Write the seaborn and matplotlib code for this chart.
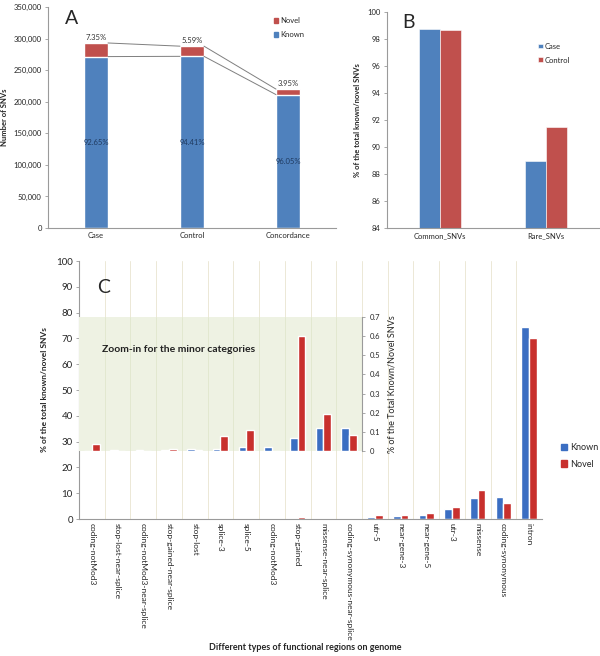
import matplotlib
matplotlib.use("Agg")
import matplotlib.pyplot as plt
import matplotlib.ticker as mticker
from matplotlib.patches import Patch
import pandas as pd
import seaborn as sns

# ── Data ─────────────────────────────────────────────────────────────────────

# panel A: number of SNVs
a_groups = ["Case", "Control", "Concordance"]
a_known = [271500, 271900, 211300]
a_novel = [21550, 16100, 8700]
a_known_pct = ["92.65%", "94.41%", "96.05%"]
a_novel_pct = ["7.35%", "5.59%", "3.95%"]

# panel B: % known among common / rare SNVs
b_groups = ["Common_SNVs", "Rare_SNVs"]
b_case = [98.74, 88.99]
b_control = [98.69, 91.5]

# panel C: functional regions (first 11 are the minor ones shown in the zoom-in)
c_regions = ["coding-notMod3", "stop-lost-near-splice", "coding-notMod3-near-splice",
             "stop-gained-near-splice", "stop-lost", "splice-3", "splice-5",
             "coding-notMod3", "stop-gained", "missense-near-splice",
             "coding-synonymous-near-splice", "utr-5", "near-gene-3", "near-gene-5",
             "utr-3", "missense", "coding-synonymous", "intron"]
c_known = [0.0, 0.003, 0.003, 0.003, 0.012, 0.012, 0.021, 0.021, 0.066, 0.119, 0.122,
           0.9, 1.2, 1.5, 3.7, 8.0, 8.6, 74.5]
c_novel = [0.035, 0.0, 0.0, 0.009, 0.007, 0.077, 0.111, 0.0, 0.60, 0.193, 0.084,
           1.5, 1.4, 2.2, 4.5, 11.2, 6.3, 70.3]
n_minor = 11

BLUE, RED = "#4f81bd", "#c0504d"
C_BLUE, C_RED = "#3b6ec2", "#c8302d"
SPINE = "#9a9a9a"

sns.set_style("white")
plt.rcParams["font.family"] = ["Lato", "DejaVu Sans"]


def tidy(ax, left=True):
    for s in ["top", "right"]:
        ax.spines[s].set_visible(False)
    ax.spines["left"].set_visible(left)
    ax.spines["left"].set_color(SPINE)
    ax.spines["bottom"].set_color(SPINE)
    ax.spines["left"].set_linewidth(0.8)
    ax.spines["bottom"].set_linewidth(0.8)
    ax.tick_params(axis="y", length=2.5, width=0.6, color=SPINE, pad=2, left=True)
    ax.tick_params(axis="x", length=0, pad=3)


fig = plt.figure(figsize=(6, 6.56), dpi=100)

# ── A ────────────────────────────────────────────────────────────────────────
axA = fig.add_axes([0.08, 0.6524, 0.48, 0.3369])
dfa = pd.DataFrame({"group": a_groups, "known": a_known, "novel": a_novel})
dfa["total"] = dfa["known"] + dfa["novel"]
sns.barplot(data=dfa, x="group", y="total", color=RED, width=0.25,
            saturation=1, errorbar=None, ax=axA)
sns.barplot(data=dfa, x="group", y="known", color=BLUE, width=0.25,
            saturation=1, errorbar=None, ax=axA)
hw = 0.125
for i in range(len(a_groups) - 1):
    for col in ["total", "known"]:
        axA.plot([i + hw, i + 1 - hw], [dfa[col][i], dfa[col][i + 1]],
                 color="#7f7f7f", lw=0.7)
for i in range(len(a_groups)):
    axA.text(i, dfa["total"][i] + 3000, a_novel_pct[i], ha="center", va="bottom",
             fontsize=5.5, color="#333333")
    axA.text(i, dfa["known"][i] / 2, a_known_pct[i], ha="center", va="center",
             fontsize=5.5, color="#1f3a60")
axA.set_xlim(-0.5, 2.5)
axA.set_ylim(0, 350000)
axA.set_yticks(range(0, 350001, 50000))
axA.yaxis.set_major_formatter(mticker.FuncFormatter(lambda v, p: f"{int(v):,}"))
axA.set_xlabel("")
axA.set_ylabel("Number of SNVs", fontsize=5.5, fontweight="bold", labelpad=4)
axA.tick_params(labelsize=5.5)
tidy(axA)
axA.legend(handles=[Patch(color=RED, label="Novel"), Patch(color=BLUE, label="Known")],
           loc="upper left", bbox_to_anchor=(0.76, 0.985), frameon=False, fontsize=5.5,
           handlelength=0.6, handleheight=0.6, handletextpad=0.2, labelspacing=0.9)
axA.text(0.06, 0.985, "A", transform=axA.transAxes, fontsize=14, va="top")

# ── B ────────────────────────────────────────────────────────────────────────
axB = fig.add_axes([0.645, 0.6524, 0.3533, 0.3293])
dfb = pd.DataFrame({"group": b_groups * 2,
                    "pct": b_case + b_control,
                    "who": ["Case"] * 2 + ["Control"] * 2})
sns.barplot(data=dfb, x="group", y="pct", hue="who", palette=[BLUE, RED],
            width=0.4, saturation=1, errorbar=None, edgecolor="white",
            linewidth=0.4, ax=axB)
axB.set_ylim(84, 100)
axB.set_yticks(range(84, 101, 2))
axB.set_xlabel("")
axB.set_ylabel("% of the total known/novel SNVs", fontsize=5.5, fontweight="bold",
               labelpad=5)
axB.tick_params(labelsize=5.5)
tidy(axB)
axB.legend(loc="upper left", bbox_to_anchor=(0.68, 0.89), frameon=False, fontsize=5.5,
           handlelength=0.6, handleheight=0.6, handletextpad=0.2, labelspacing=0.9)
axB.text(0.07, 0.99, "B", transform=axB.transAxes, fontsize=14, va="top")

# ── C ────────────────────────────────────────────────────────────────────────
axC = fig.add_axes([0.1317, 0.2088, 0.7717, 0.3933])
n = len(c_regions)
dfc = pd.DataFrame({"pos": list(range(n)) * 2,
                    "pct": c_known + c_novel,
                    "type": ["Known"] * n + ["Novel"] * n})
for k in range(n - 1):
    axC.axvline(k + 0.5, color="#ece8d6", lw=0.7, zorder=0)
sns.barplot(data=dfc, x="pos", y="pct", hue="type", palette=[C_BLUE, C_RED],
            width=0.6, saturation=1, errorbar=None, legend=False, ax=axC)
axC.set_xlim(-0.5, n - 0.5)
axC.set_ylim(0, 100)
axC.set_yticks(range(0, 101, 10))
axC.set_xticks(range(n))
axC.set_xticklabels(c_regions, rotation=-90, fontsize=6, va="top", ha="center")
axC.set_xlabel("")
axC.set_ylabel("% of the total known/novel SNVs", fontsize=6, fontweight="bold",
               labelpad=6)
axC.tick_params(axis="y", labelsize=7)
tidy(axC)
axC.text(0.04, 0.93, "C", transform=axC.transAxes, fontsize=14, va="top")

# zoom-in inset for the minor categories
axI = fig.add_axes([0.1317, 0.3125, 0.7717 * n_minor / n, 0.2043])
axI.set_facecolor("#eef2e3")
for k in range(n_minor - 1):
    axI.axvline(k + 0.5, color="#e2e8d0", lw=0.7, zorder=0)
dfi = pd.DataFrame({"pos": list(range(n_minor)) * 2,
                    "pct": c_known[:n_minor] + c_novel[:n_minor],
                    "type": ["Known"] * n_minor + ["Novel"] * n_minor})
sns.barplot(data=dfi, x="pos", y="pct", hue="type", palette=[C_BLUE, C_RED],
            width=0.6, saturation=1, errorbar=None, legend=False, ax=axI)
axI.set_xlim(-0.5, n_minor - 0.5)
axI.set_ylim(0, 0.7)
axI.set_yticks([0, 0.1, 0.2, 0.3, 0.4, 0.5, 0.6, 0.7])
axI.yaxis.set_major_formatter(mticker.FuncFormatter(lambda v, p: f"{v:g}"))
axI.set_xticks([])
axI.set_xlabel("")
for s in ["top", "left", "bottom"]:
    axI.spines[s].set_visible(False)
axI.spines["right"].set_color(SPINE)
axI.spines["right"].set_linewidth(0.8)
axI.yaxis.tick_right()
axI.yaxis.set_label_position("right")
axI.tick_params(axis="y", length=2.5, width=0.6, color=SPINE, labelsize=5.5, pad=3,
                right=True, left=False)
axI.set_ylabel("% of the Total Known/Novel SNVs", fontsize=6.5, labelpad=5)
axI.text(0.08, 0.76, "Zoom-in for the minor categories", transform=axI.transAxes,
         fontsize=7.5, fontweight="bold", va="center", color="#222222")

fig.legend(handles=[Patch(color=C_BLUE, label="Known"), Patch(color=C_RED, label="Novel")],
           loc="center left", bbox_to_anchor=(0.935, 0.305), frameon=False, fontsize=6.5,
           borderpad=0, borderaxespad=0, handlelength=0.7, handleheight=0.7,
           handletextpad=0.3, labelspacing=0.8)
fig.text(0.508, 1 - 647 / 656, "Different types of functional regions on genome",
         ha="center", va="center", fontsize=6.5, fontweight="bold")

fig.savefig("out.png", dpi=100)
